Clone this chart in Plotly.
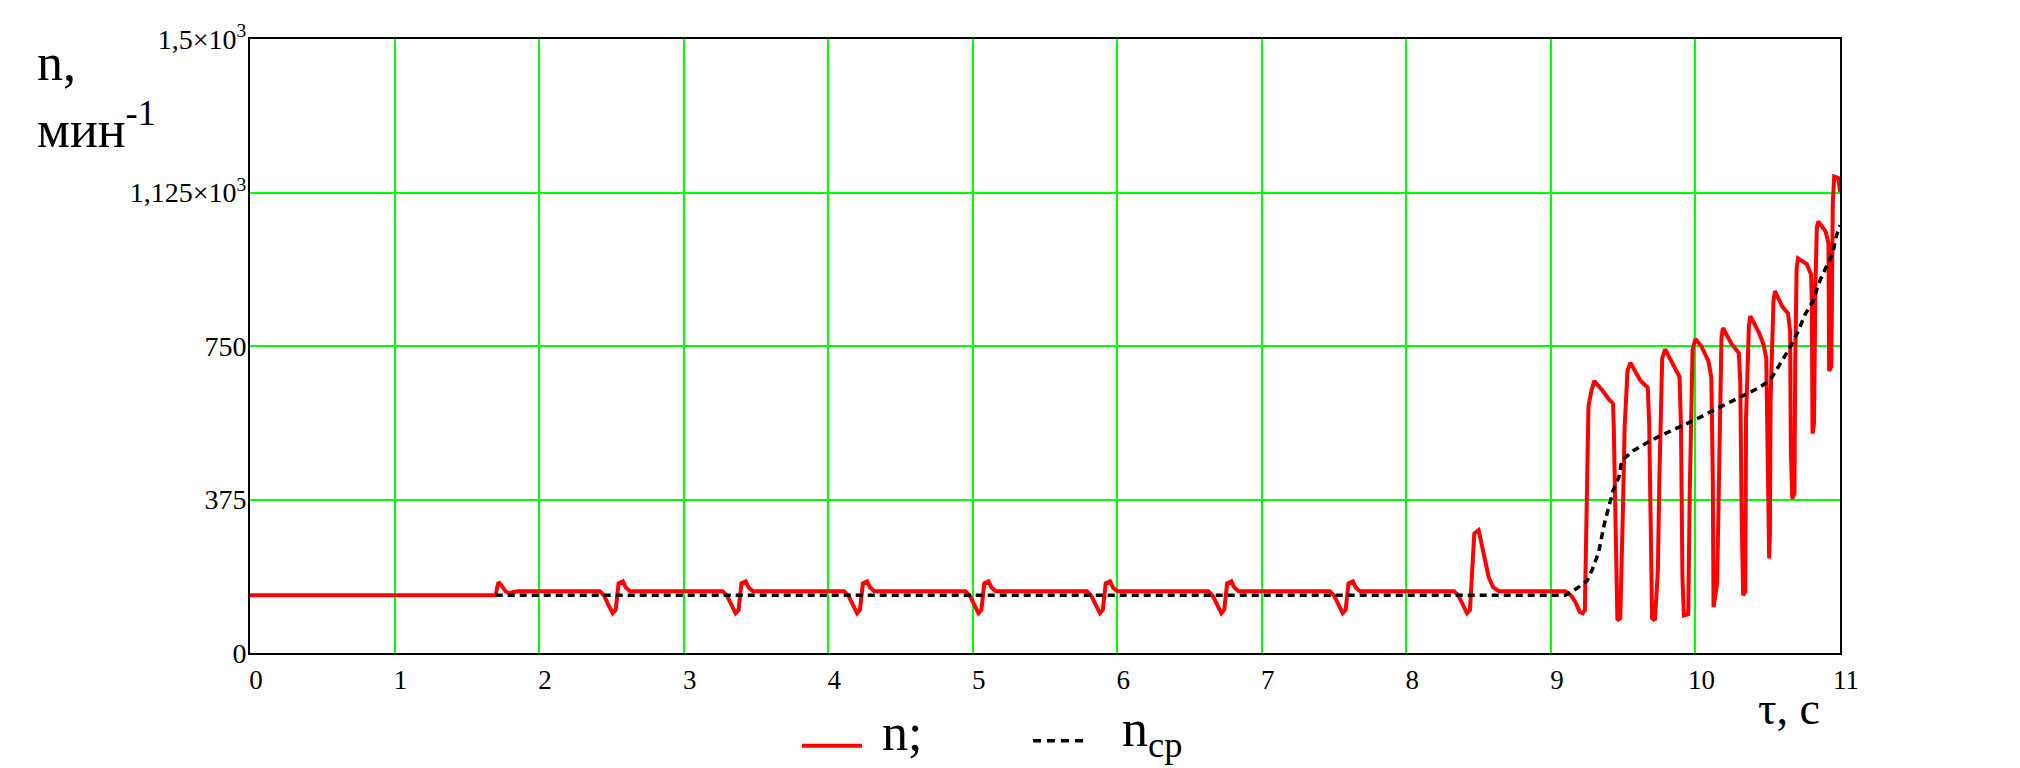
import plotly.graph_objects as go

# ---------------- data ----------------
# n(t), red solid line: (time, s ; speed, min^-1)
n_points = [
    (0.00, 141), (1.70, 141), (1.71, 160), (1.72, 173), (1.74, 165), (1.77, 150), (1.79, 146), (1.85, 151),
    (2.42, 151), (2.45, 140), (2.48, 117), (2.51, 97), (2.53, 105), (2.54, 136), (2.55, 170), (2.58, 175), (2.60, 160), (2.63, 151),
    (3.27, 151), (3.30, 140), (3.33, 117), (3.36, 97), (3.38, 105), (3.39, 136), (3.40, 170), (3.43, 175), (3.45, 160), (3.48, 151),
    (4.11, 151), (4.14, 140), (4.17, 117), (4.20, 97), (4.22, 105), (4.23, 136), (4.24, 170), (4.27, 175), (4.29, 160), (4.32, 151),
    (4.95, 151), (4.98, 140), (5.01, 117), (5.04, 97), (5.06, 105), (5.07, 136), (5.08, 170), (5.11, 175), (5.13, 160), (5.16, 151),
    (5.79, 151), (5.82, 140), (5.85, 117), (5.88, 97), (5.90, 105), (5.91, 136), (5.92, 170), (5.95, 175), (5.97, 160), (6.00, 151),
    (6.63, 151), (6.66, 140), (6.69, 117), (6.72, 97), (6.74, 105), (6.75, 136), (6.76, 170), (6.79, 175), (6.81, 160), (6.84, 151),
    (7.47, 151), (7.50, 140), (7.53, 117), (7.56, 97), (7.58, 105), (7.59, 136), (7.60, 170), (7.63, 175), (7.65, 160), (7.68, 151),
    (8.33, 151), (8.36, 140), (8.39, 117), (8.42, 97), (8.44, 105), (8.45, 160), (8.46, 226), (8.47, 292), (8.50, 300),
    (8.52, 268), (8.55, 226), (8.57, 185), (8.60, 161), (8.64, 151),
    (9.10, 151), (9.14, 140), (9.17, 124), (9.20, 100), (9.22, 97), (9.235, 105),
    (9.24, 209), (9.245, 300), (9.25, 462), (9.26, 604), (9.28, 640), (9.30, 665), (9.31, 660), (9.36, 640),
    (9.40, 620), (9.43, 609), (9.435, 551), (9.445, 324), (9.46, 80), (9.48, 85),
    (9.49, 202), (9.50, 377), (9.51, 551), (9.53, 690), (9.55, 709), (9.58, 690), (9.62, 665), (9.67, 648),
    (9.68, 560), (9.69, 324), (9.70, 85), (9.72, 80),
    (9.74, 202), (9.75, 420), (9.76, 600), (9.77, 720), (9.79, 742), (9.83, 715), (9.87, 689), (9.89, 675),
    (9.90, 551), (9.91, 185), (9.92, 92), (9.95, 95),
    (9.96, 380), (9.97, 584), (9.98, 740), (10.00, 767), (10.04, 750), (10.09, 713), (10.11, 672),
    (10.12, 429), (10.125, 112), (10.15, 170),
    (10.16, 380), (10.17, 599), (10.18, 770), (10.19, 794), (10.25, 755), (10.30, 733), (10.31, 665),
    (10.32, 329), (10.33, 141), (10.345, 150),
    (10.35, 575), (10.37, 800), (10.38, 823), (10.44, 782), (10.47, 755), (10.49, 721),
    (10.50, 390), (10.51, 231), (10.515, 292),
    (10.52, 623), (10.54, 860), (10.55, 884), (10.60, 847), (10.64, 830), (10.655, 786),
    (10.66, 494), (10.67, 377), (10.685, 390),
    (10.69, 700), (10.70, 940), (10.71, 964), (10.77, 950), (10.80, 925), (10.805, 860),
    (10.81, 536), (10.82, 560),
    (10.83, 900), (10.84, 1040), (10.85, 1054), (10.90, 1030), (10.92, 1001),
    (10.925, 689), (10.94, 700),
    (10.95, 1100), (10.96, 1164), (10.99, 1160), (11.00, 1127),
]

# n_cp(t), black dotted line
ncp_points = [
    (1.70, 141), (9.10, 141), (9.18, 158), (9.25, 176), (9.29, 207), (9.33, 246), (9.37, 316),
    (9.40, 355), (9.43, 397), (9.47, 429), (9.49, 470), (9.57, 494), (9.69, 519), (9.79, 536),
    (9.91, 555), (10.01, 572), (10.12, 592), (10.22, 610), (10.33, 628), (10.44, 648), (10.52, 668),
    (10.60, 713), (10.66, 750), (10.71, 786), (10.76, 828), (10.82, 864), (10.85, 901), (10.90, 940),
    (10.95, 976), (10.97, 1013), (11.00, 1045),
]

x_tick_vals = list(range(0, 12))
x_tick_text = [str(v) for v in x_tick_vals]
y_tick_vals = [0, 375, 750, 1125, 1500]
y_tick_text = ["0", "375", "750", "1,125×10<sup>3</sup>", "1,5×10<sup>3</sup>"]

# ---------------- layout geometry ----------------
# page pixel positions of the plot area (the page body adds an 8px offset)
OFF = 8
W, H = 2020 - OFF, 768 - OFF
L, R, T, B = 250, 1840, 37, 653
FONT = "Liberation Serif, Times New Roman, serif"


def px(x):
    return (x - L) / (R - L)


def py(y):
    return (B - y) / (B - T)


fig = go.Figure()
fig.add_trace(go.Scatter(
    x=[p[0] for p in n_points], y=[p[1] for p in n_points],
    mode="lines", name="n;", line=dict(color="#FF0000", width=4),
    showlegend=False,
))
fig.add_trace(go.Scatter(
    x=[p[0] for p in ncp_points], y=[p[1] for p in ncp_points],
    mode="lines", name="n<sub>ср</sub>", line=dict(color="black", width=3.5, dash="7px,5px"),
    showlegend=False,
))

fig.update_layout(
    width=W, height=H, autosize=False,
    margin=dict(l=L - OFF, r=(W + OFF) - R, t=T - OFF, b=(H + OFF) - B, pad=0),
    paper_bgcolor="white", plot_bgcolor="white",
    font=dict(family=FONT, color="black", size=27),
    xaxis=dict(
        range=[0, 11], tickvals=x_tick_vals, ticktext=x_tick_text,
        showgrid=True, gridcolor="#00FF00", gridwidth=2,
        showline=True, linecolor="black", linewidth=2, mirror=True,
        zeroline=False, ticks="", ticklabelstandoff=2, ticklabelshift=6,
        tickfont=dict(family=FONT, size=27, color="black"),
    ),
    yaxis=dict(
        range=[0, 1500], tickvals=y_tick_vals, ticktext=y_tick_text,
        showgrid=True, gridcolor="#00FF00", gridwidth=2,
        showline=True, linecolor="black", linewidth=2, mirror=True,
        zeroline=False, ticks="", ticklabelstandoff=-4,
        tickfont=dict(family=FONT, size=28, color="black"),
    ),
)

annotations = [
    dict(text="n,", x=px(35), y=py(61), xanchor="left", yanchor="middle", font=dict(size=52)),
    dict(text="мин<sup>-1</sup>", x=px(35), y=py(124), xanchor="left", yanchor="middle", font=dict(size=52)),
    dict(text="τ, с", x=px(1789), y=py(709), xanchor="center", yanchor="middle", font=dict(size=46)),
    dict(text="n;", x=px(880), y=py(733), xanchor="left", yanchor="middle", font=dict(size=52)),
    dict(text="n<sub>ср</sub>", x=px(1120), y=py(733), xanchor="left", yanchor="middle", font=dict(size=52)),
]
for a in annotations:
    a.update(xref="paper", yref="paper", showarrow=False)
    a["font"].update(family=FONT, color="black")
fig.update_layout(annotations=annotations)

# legend line samples
fig.add_shape(type="line", xref="paper", yref="paper", x0=px(802), x1=px(862), y0=py(746), y1=py(746),
              line=dict(color="#FF0000", width=4))
fig.add_shape(type="line", xref="paper", yref="paper", x0=px(1033), x1=px(1089), y0=py(741), y1=py(741),
              line=dict(color="black", width=3.5, dash="8px,6px"))

fig.write_html("out.html")
